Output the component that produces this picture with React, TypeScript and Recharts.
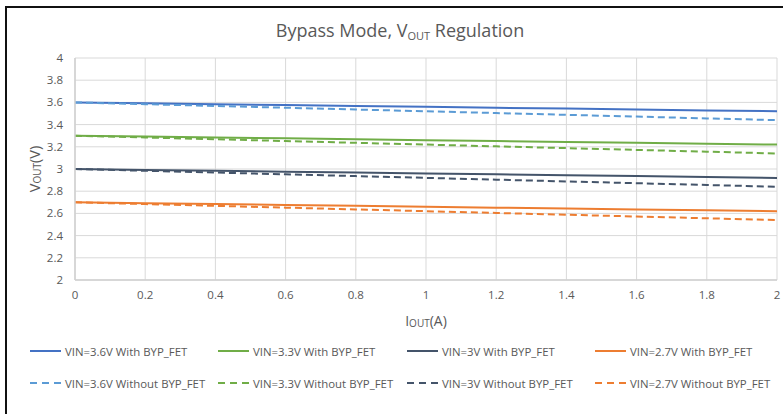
import React from "react";
import { LineChart, Line, XAxis, YAxis, CartesianGrid, Label } from "recharts";

const xValues = [0, 0.2, 0.4, 0.6, 0.8, 1, 1.2, 1.4, 1.6, 1.8, 2];
const xTicks = [0, 0.2, 0.4, 0.6, 0.8, 1, 1.2, 1.4, 1.6, 1.8, 2];
const yTicks = [2, 2.2, 2.4, 2.6, 2.8, 3, 3.2, 3.4, 3.6, 3.8, 4];

const vin36With = [3.6, 3.592, 3.584, 3.576, 3.568, 3.56, 3.552, 3.544, 3.536, 3.528, 3.52];
const vin33With = [3.3, 3.292, 3.284, 3.276, 3.268, 3.26, 3.252, 3.244, 3.236, 3.228, 3.22];
const vin30With = [3.0, 2.992, 2.984, 2.976, 2.968, 2.96, 2.952, 2.944, 2.936, 2.928, 2.92];
const vin27With = [2.7, 2.692, 2.684, 2.676, 2.668, 2.66, 2.652, 2.644, 2.636, 2.628, 2.62];
const vin36Without = [3.6, 3.584, 3.568, 3.552, 3.536, 3.52, 3.504, 3.488, 3.472, 3.456, 3.44];
const vin33Without = [3.3, 3.284, 3.268, 3.252, 3.236, 3.22, 3.204, 3.188, 3.172, 3.156, 3.14];
const vin30Without = [3.0, 2.984, 2.968, 2.952, 2.936, 2.92, 2.904, 2.888, 2.872, 2.856, 2.84];
const vin27Without = [2.7, 2.684, 2.668, 2.652, 2.636, 2.62, 2.604, 2.588, 2.572, 2.556, 2.54];

const seriesNames = [
  "VIN=3.6V With BYP_FET",
  "VIN=3.3V With BYP_FET",
  "VIN=3V With BYP_FET",
  "VIN=2.7V With BYP_FET",
  "VIN=3.6V Without BYP_FET",
  "VIN=3.3V Without BYP_FET",
  "VIN=3V Without BYP_FET",
  "VIN=2.7V Without BYP_FET",
];
const seriesValues = [
  vin36With, vin33With, vin30With, vin27With,
  vin36Without, vin33Without, vin30Without, vin27Without,
];
const seriesColors = [
  "#4472C4", "#70AD47", "#44546A", "#ED7D31",
  "#5B9BD5", "#70AD47", "#44546A", "#ED7D31",
];
const seriesDashed = [false, false, false, false, true, true, true, true];

const data = xValues.map((x, i) => {
  const row: Record<string, number> = { x };
  seriesValues.forEach((vals, s) => {
    row["s" + s] = vals[i];
  });
  return row;
});

const FONT = "'Open Sans', 'Noto Sans', sans-serif";
const GRAY = "#595959";

const YLabel = (props: any) => {
  const vb = props.viewBox;
  const cx = 34;
  const cy = vb.y + vb.height / 2;
  return (
    <text
      x={cx}
      y={cy}
      transform={`rotate(-90 ${cx} ${cy})`}
      textAnchor="middle"
      dominantBaseline="central"
      fill={GRAY}
      fontSize={14.5}
      fontFamily={FONT}
    >
      V<tspan fontSize={10} dy={3}>OUT</tspan>
      <tspan dy={-3}>(V)</tspan>
    </text>
  );
};

const XLabel = (props: any) => {
  const vb = props.viewBox;
  const cx = vb.x + vb.width / 2;
  return (
    <text
      x={cx}
      y={320}
      textAnchor="middle"
      dominantBaseline="central"
      fill={GRAY}
      fontSize={14}
      fontFamily={FONT}
    >
      I<tspan fontSize={10} dy={3}>OUT</tspan>
      <tspan dy={-3}>(A)</tspan>
    </text>
  );
};

const legendCols = [30, 218, 407, 595];
const legendRows = [351, 383];

export default function App() {
  return (
    <div
      style={{
        position: "absolute",
        left: 0,
        top: 0,
        width: 783,
        height: 414,
        background: "#fff",
        overflow: "hidden",
        fontFamily: FONT,
      }}
    >
      <div
        style={{
          position: "absolute",
          left: 5,
          top: 6,
          width: 800,
          height: 420,
          borderLeft: "2px solid #111",
          borderTop: "2px solid #111",
        }}
      />
      <div
        style={{
          position: "absolute",
          left: 0,
          width: 800,
          top: 18,
          textAlign: "center",
          fontSize: 18,
          color: GRAY,
          whiteSpace: "nowrap",
        }}
      >
        Bypass Mode, V<sub style={{ fontSize: 11, verticalAlign: "-3px" }}>OUT</sub> Regulation
      </div>
      <div style={{ position: "absolute", left: 0, top: 0 }}>
        <LineChart
          width={783}
          height={414}
          data={data}
          margin={{ top: 58, right: 6, bottom: 104, left: 30 }}
        >
          <CartesianGrid stroke="#D9D9D9" strokeWidth={1} />
          <XAxis
            dataKey="x"
            type="number"
            domain={[0, 2]}
            ticks={xTicks}
            height={30}
            tickLine={false}
            tickSize={0}
            tickMargin={11}
            axisLine={{ stroke: "#D0D0D0", strokeWidth: 1.5 }}
            tick={{ fill: GRAY, fontSize: 11.5, fontFamily: FONT }}
            interval={0}
          >
            <Label content={XLabel} />
          </XAxis>
          <YAxis
            type="number"
            domain={[2, 4]}
            ticks={yTicks}
            width={45}
            tickLine={false}
            tickSize={0}
            tickMargin={12}
            axisLine={{ stroke: "#D0D0D0", strokeWidth: 1.5 }}
            tick={{ fill: GRAY, fontSize: 11.5, fontFamily: FONT }}
            interval={0}
          >
            <Label content={YLabel} />
          </YAxis>
          {seriesNames.map((name, s) => (
            <Line
              key={name}
              name={name}
              dataKey={"s" + s}
              type="linear"
              stroke={seriesColors[s]}
              strokeWidth={2}
              strokeDasharray={seriesDashed[s] ? "7 4" : undefined}
              dot={false}
              activeDot={false}
              isAnimationActive={false}
            />
          ))}
        </LineChart>
      </div>
      {seriesNames.map((name, s) => {
        const col = s % 4;
        const row = Math.floor(s / 4);
        const left = legendCols[col];
        const cy = legendRows[row];
        return (
          <div
            key={name}
            style={{
              position: "absolute",
              left,
              top: cy - 9,
              height: 18,
              display: "flex",
              alignItems: "center",
              whiteSpace: "nowrap",
              fontSize: 11.4,
              color: GRAY,
            }}
          >
            <svg width={31} height={6} style={{ marginRight: 4, flexShrink: 0 }}>
              <line
                x1={0}
                y1={3}
                x2={31}
                y2={3}
                stroke={seriesColors[s]}
                strokeWidth={2}
                strokeDasharray={seriesDashed[s] ? "7 5" : undefined}
              />
            </svg>
            <span>{name}</span>
          </div>
        );
      })}
    </div>
  );
}
